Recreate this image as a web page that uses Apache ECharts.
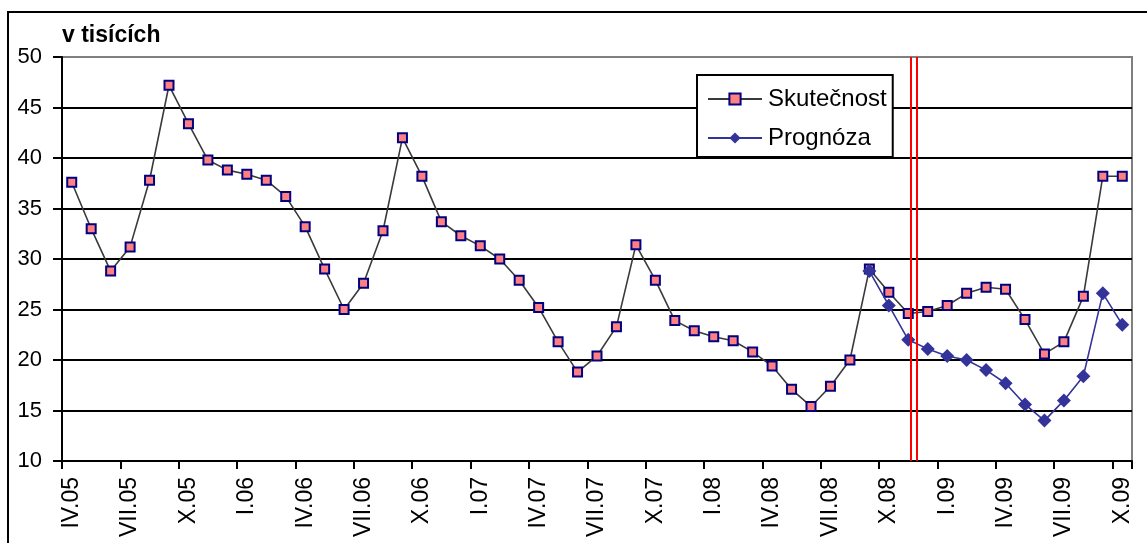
<!DOCTYPE html>
<html>
<head>
<meta charset="utf-8">
<script src="https://cdn.jsdelivr.net/npm/echarts@6/dist/echarts.min.js"></script>
<style>
html,body{margin:0;padding:0;background:#fff;}
#chart{width:1147px;height:543px;}
</style>
</head>
<body>
<div id="chart"></div>
<script>
const categories = [
  'IV.05','V.05','VI.05','VII.05','VIII.05','IX.05','X.05','XI.05','XII.05',
  'I.06','II.06','III.06','IV.06','V.06','VI.06','VII.06','VIII.06','IX.06','X.06','XI.06','XII.06',
  'I.07','II.07','III.07','IV.07','V.07','VI.07','VII.07','VIII.07','IX.07','X.07','XI.07','XII.07',
  'I.08','II.08','III.08','IV.08','V.08','VI.08','VII.08','VIII.08','IX.08','X.08','XI.08','XII.08',
  'I.09','II.09','III.09','IV.09','V.09','VI.09','VII.09','VIII.09','IX.09','X.09'
];

const skutecnost = [
  37.6, 33.0, 28.8, 31.2, 37.8, 47.2, 43.4, 39.8, 38.8,
  38.4, 37.8, 36.2, 33.2, 29.0, 25.0, 27.6, 32.8, 42.0, 38.2, 33.7, 32.3,
  31.3, 30.0, 27.9, 25.2, 21.8, 18.8, 20.4, 23.3, 31.4, 27.9, 23.9, 22.9,
  22.3, 21.9, 20.8, 19.4, 17.1, 15.4, 17.4, 20.0, 29.0, 26.7, 24.6, 24.8,
  25.4, 26.6, 27.2, 27.0, 24.0, 20.6, 21.8, 26.3, 38.2, 38.2
];

const prognozaStart = 'IX.08';
const prognoza = [28.8, 25.4, 22.0, 21.1, 20.4, 20.0, 19.0, 17.7, 15.6, 14.0, 16.0, 18.4, 26.6, 23.5];

// position of the double divider line, in category units from the left edge of the axis
const dividerPositions = [43.65, 43.92];

const yTicks = { min: 10, max: 50, interval: 5 };
const titleText = 'v tisících';
const seriesNames = ['Skutečnost', 'Prognóza'];

const FONT = 'Liberation Sans, Arial, sans-serif';
const startIdx = categories.indexOf(prognozaStart);
const prognozaData = prognoza.map((v, i) => [categories[startIdx + i], v]);

const chart = echarts.init(document.getElementById('chart'));
chart.setOption({
  animation: false,
  backgroundColor: '#ffffff',
  textStyle: { fontFamily: FONT, color: '#000' },
  graphic: [{
    type: 'rect',
    shape: { x: 8, y: 12, width: 1170, height: 620 },
    style: { fill: 'none', stroke: '#000', lineWidth: 2 },
    silent: true,
    z: 0
  }],
  title: {
    text: titleText,
    left: 62,
    top: 24,
    padding: 0,
    textStyle: { fontFamily: FONT, fontWeight: 'bold', fontSize: 23, color: '#000' }
  },
  legend: {
    orient: 'vertical',
    left: 697,
    top: 75,
    padding: [12, 6, 7, 10],
    itemGap: 15,
    itemWidth: 54,
    itemHeight: 14,
    backgroundColor: '#fff',
    borderColor: '#000',
    borderWidth: 2,
    borderRadius: 0,
    selectedMode: false,
    textStyle: { fontFamily: FONT, fontSize: 24, color: '#000', padding: [0, 0, 0, 1] },
    data: seriesNames
  },
  grid: {
    left: 62, top: 57, right: 15, bottom: 82,
    show: true, borderColor: '#808080', borderWidth: 2, backgroundColor: 'transparent'
  },
  xAxis: [{
    type: 'category',
    data: categories,
    boundaryGap: true,
    axisLine: { lineStyle: { color: '#000', width: 2 } },
    axisTick: { show: true, interval: 2, length: 8, lineStyle: { color: '#000', width: 2 } },
    axisLabel: {
      interval: 2, rotate: 90, margin: 16,
      fontFamily: FONT, fontSize: 23, color: '#000'
    },
    splitLine: { show: false }
  }, {
    type: 'value',
    min: 0,
    max: categories.length,
    show: false,
    splitLine: { show: false }
  }],
  yAxis: {
    type: 'value',
    min: yTicks.min, max: yTicks.max, interval: yTicks.interval,
    axisLine: { show: true, lineStyle: { color: '#000', width: 2 } },
    axisTick: { show: true, length: 9, lineStyle: { color: '#000', width: 2 } },
    axisLabel: { fontFamily: FONT, fontSize: 22, color: '#000', margin: 20 },
    splitLine: { show: true, showMaxLine: false, lineStyle: { color: '#000', width: 2 } }
  },
  series: [{
    name: seriesNames[0],
    type: 'line',
    data: skutecnost,
    symbol: 'rect',
    symbolSize: 9,
    showAllSymbol: true,
    z: 3,
    lineStyle: { color: '#3a3a3a', width: 1.6 },
    itemStyle: { color: '#FF8080', borderColor: '#000080', borderWidth: 2 }
  }, {
    name: seriesNames[1],
    type: 'line',
    data: prognozaData,
    symbol: 'diamond',
    symbolSize: 14,
    showAllSymbol: true,
    z: 4,
    lineStyle: { color: '#333399', width: 1.6 },
    itemStyle: { color: '#333399', borderWidth: 0 }
  }, {
    name: 'divider',
    type: 'line',
    xAxisIndex: 1,
    data: [],
    silent: true,
    markLine: {
      silent: true,
      symbol: 'none',
      label: { show: false },
      lineStyle: { color: '#FF0000', width: 2, type: 'solid' },
      data: dividerPositions.map(p => ({ xAxis: p }))
    },
    z: 5
  }]
});
</script>
</body>
</html>
